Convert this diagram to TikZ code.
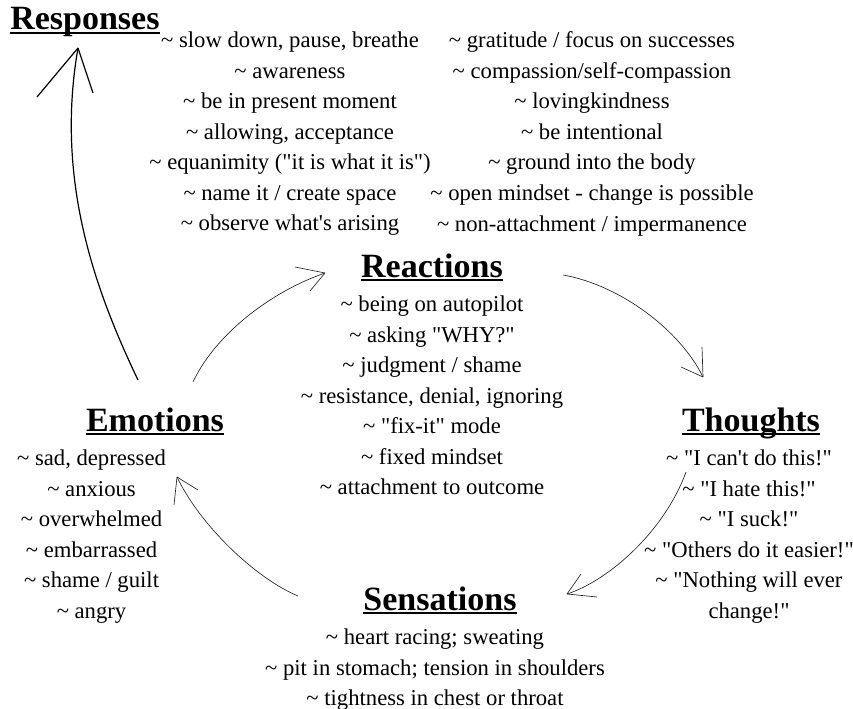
\documentclass[tikz,border=0pt]{standalone}
\usepackage{fontspec}
\setmainfont{Liberation Serif}[Ligatures=TeXOff]
\usetikzlibrary{positioning}

\newcommand{\tld}{\textasciitilde}
\newcommand{\ulhead}[1]{\setbox0=\hbox{#1}\rlap{\rule[-3pt]{\wd0}{1.5pt}}\box0}

\begin{document}
\begin{tikzpicture}[
  x=0.75pt, y=-0.75pt,
  node distance=13.8pt,
  head/.style={inner sep=0pt, anchor=base, text depth=0pt,
    font=\fontsize{25.5}{30}\selectfont\bfseries},
  items/.style={inner sep=0pt, align=center,
    font=\fontsize{17}{22.9}\selectfont},
  arr/.style={line width=0.5pt, black!85},
  bigarr/.style={line width=0.9pt, black}
]
\useasboundingbox (0,0) rectangle (853,709);

\node[head, anchor=base west] (responses) at (10,30) {\ulhead{Responses}};
\node[items, anchor=north] (resp-left) at (290,31.6)
  {\tld\ slow down, pause, breathe\\ \tld\ awareness\\
   \tld\ be in present moment\\ \tld\ allowing, acceptance\\
   \tld\ equanimity ("it is what it is")\\ \tld\ name it / create space\\
   \tld\ observe what's arising};
\node[items, anchor=north] (resp-right) at (592,31.6)
  {\tld\ gratitude / focus on successes\\ \tld\ compassion/self-compassion\\
   \tld\ lovingkindness\\ \tld\ be intentional\\
   \tld\ ground into the body\\ \tld\ open mindset - change is possible\\
   \tld\ non-attachment / impermanence};

\node[head] (reactions) at (432,277) {\ulhead{Reactions}};
\node[items, below=of reactions] (reac-list)
  {\tld\ being on autopilot\\ \tld\ asking "WHY?"\\
   \tld\ judgment / shame\\ \tld\ resistance, denial, ignoring\\
   \tld\ "fix-it" mode\\ \tld\ fixed mindset\\
   \tld\ attachment to outcome};

\node[head] (thoughts) at (751,431) {\ulhead{Thoughts}};
\node[items, below=of thoughts, xshift=-1.5pt] (thou-list)
  {\tld\ "I can't do this!"\\ \tld\ "I hate this!"\\
   \tld\ "I suck!"\\ \tld\ "Others do it easier!"\\
   \tld\ "Nothing will ever\\ change!"};

\node[head] (emotions) at (155,431) {\ulhead{Emotions}};
\node[items, below=of emotions, xshift=-47.6pt] (emo-list)
  {\tld\ sad, depressed\\ \tld\ anxious\\ \tld\ overwhelmed\\
   \tld\ embarrassed\\ \tld\ shame / guilt\\ \tld\ angry};

\node[head] (sensations) at (440,610) {\ulhead{Sensations}};
\node[items, below=of sensations, xshift=-3.75pt] (sens-list)
  {\tld\ heart racing; sweating\\
   \tld\ pit in stomach; tension in shoulders\\
   \tld\ tightness in chest or throat};

\coordinate (emo-top) at (138,380);
\coordinate (resp-tip) at (78,48);
\coordinate (emo-out) at (193,382);
\coordinate (reac-tip) at (325,273);
\coordinate (reac-out) at (563,275);
\coordinate (thou-tip) at (703,377);
\coordinate (thou-out) at (686,472);
\coordinate (sens-tip) at (567,594);
\coordinate (sens-out) at (298,596);
\coordinate (emo-tip) at (177,477);

\draw[bigarr] (emo-top) .. controls (95,290) and (55,180) .. (resp-tip);
\draw[bigarr] (resp-tip) -- ++(-41,49) (resp-tip) -- ++(15,45);

\draw[arr] (emo-out) .. controls (215,335) and (270,292) .. (reac-tip);
\draw[arr] (reac-tip) -- ++(-30,-6) (reac-tip) -- ++(-15,18);

\draw[arr] (reac-out) .. controls (620,285) and (680,330) .. (thou-tip);
\draw[arr] (thou-tip) -- ++(-1,-30) (thou-tip) -- ++(-22,-10);

\draw[arr] (thou-out) .. controls (665,530) and (610,580) .. (sens-tip);
\draw[arr] (sens-tip) -- ++(14,-20) (sens-tip) -- ++(30,3);

\draw[arr] (sens-out) .. controls (255,578) and (200,525) .. (emo-tip);
\draw[arr] (emo-tip) -- ++(-3,28) (emo-tip) -- ++(21,13);
\end{tikzpicture}
\end{document}
